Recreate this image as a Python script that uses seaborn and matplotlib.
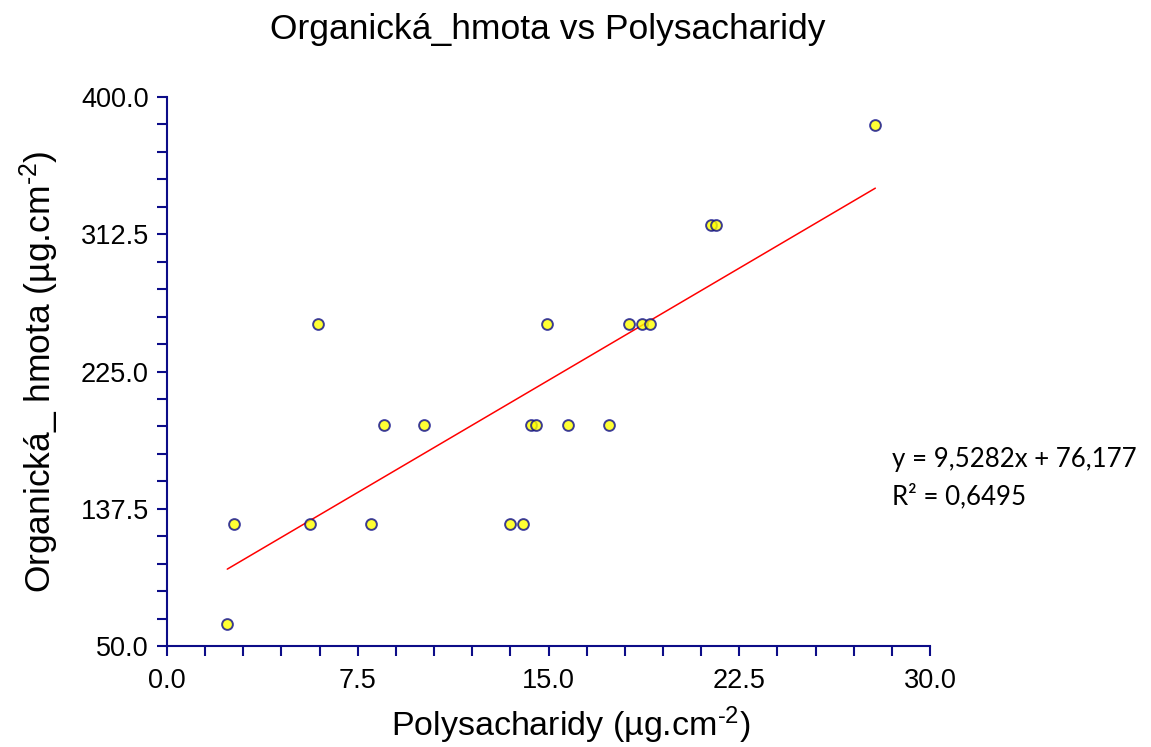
import numpy as np
import pandas as pd
import matplotlib
matplotlib.use("Agg")
import matplotlib.pyplot as plt
import seaborn as sns
from matplotlib.ticker import MultipleLocator, FormatStrFormatter

polysacharidy = [2.37, 2.65, 5.62, 8.02, 13.50, 14.01, 8.52, 10.12, 14.30, 14.50,
                 15.77, 17.38, 5.94, 14.96, 18.18, 18.67, 18.99, 21.40, 21.58, 27.85]
organicka_hmota = [64.0, 127.5, 127.5, 127.5, 127.5, 127.5, 191.2, 191.2, 191.2, 191.2,
                   191.2, 191.2, 255.0, 255.0, 255.0, 255.0, 255.0, 318.6, 318.6, 382.3]
equation_text = "y = 9,5282x + 76,177\nR² = 0,6495"
title_text = "Organická_hmota vs Polysacharidy"

df = pd.DataFrame({"x": polysacharidy, "y": organicka_hmota})

sns.set_style("white")
plt.rcParams["font.family"] = ["Liberation Sans", "DejaVu Sans"]
plt.rcParams["mathtext.fontset"] = "custom"
plt.rcParams["mathtext.rm"] = "Liberation Sans"
plt.rcParams["mathtext.it"] = "Liberation Sans"
plt.rcParams["text.color"] = "black"
plt.rcParams["axes.labelcolor"] = "black"

navy = "#0c0c88"
fig = plt.figure(figsize=(11.51, 7.47), dpi=100)
ax = fig.add_axes([167/1151, 1-646/747, (930-167)/1151, (646-97)/747])

sns.regplot(data=df, x="x", y="y", ax=ax, ci=None, truncate=True,
            scatter_kws=dict(s=60, color="#ffff00", edgecolors=navy, linewidths=1.4, zorder=3),
            line_kws=dict(color="#ff0000", lw=1.1, zorder=2))

ax.set_xlim(0, 30)
ax.set_ylim(50, 400)
ax.xaxis.set_major_locator(MultipleLocator(7.5))
ax.xaxis.set_minor_locator(MultipleLocator(1.5))
ax.yaxis.set_major_locator(MultipleLocator(87.5, offset=50))
ax.yaxis.set_minor_locator(MultipleLocator(17.5, offset=50))
ax.xaxis.set_major_formatter(FormatStrFormatter("%.1f"))
ax.yaxis.set_major_formatter(FormatStrFormatter("%.1f"))

for s in ["top", "right"]:
    ax.spines[s].set_visible(False)
for s in ["left", "bottom"]:
    ax.spines[s].set_color(navy)
    ax.spines[s].set_linewidth(1.5)
ax.tick_params(which="both", direction="out", color=navy, width=1.5, length=7,
               labelsize=19.5, labelcolor="black", left=True, bottom=True)
ax.tick_params(axis="x", which="major", pad=9)
ax.tick_params(axis="y", which="major", pad=6)

ax.set_xlabel(r"Polysacharidy (µg.cm$^{\text{-2}}$)", fontsize=24.5)
ax.xaxis.set_label_coords((571 - 167) / 763, -(705 - 646) / 549)
ax.set_ylabel(r"Organická_ hmota (µg.cm$^{\text{-2}}$)", fontsize=25.5, labelpad=14)
fig.text(548/1151, 1-30/747, title_text, ha="center", va="center", fontsize=25.5)

fig.text(892/1151, 1-478/747, equation_text, ha="left", va="center",
         fontsize=18.6, family=["Lato", "DejaVu Sans"], linespacing=1.55)

fig.savefig("out.png", dpi=100)
